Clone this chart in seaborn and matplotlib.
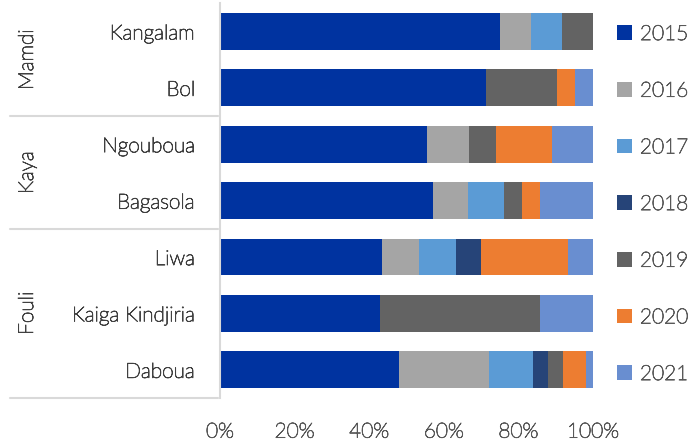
import matplotlib
matplotlib.use("Agg")
import matplotlib.pyplot as plt
import matplotlib.patheffects as pe
import seaborn as sns
import numpy as np
import pandas as pd
from matplotlib.patches import Patch
import matplotlib.transforms as mtransforms

villages = ["Kangalam", "Bol", "Ngouboua", "Bagasola", "Liwa", "Kaiga Kindjiria", "Daboua"]
groups = ["Mamdi", "Kaya", "Fouli"]
group_sizes = [2, 2, 3]
years = ["2015", "2016", "2017", "2018", "2019", "2020", "2021"]

y2015 = [75.0, 71.4, 55.6, 57.1, 43.3, 42.9, 48.0]
y2016 = [8.3, 0.0, 11.1, 9.5, 10.0, 0.0, 24.0]
y2017 = [8.3, 0.0, 0.0, 9.5, 10.0, 0.0, 12.0]
y2018 = [0.0, 0.0, 0.0, 0.0, 6.7, 0.0, 4.0]
y2019 = [8.4, 19.0, 7.4, 4.8, 0.0, 42.8, 4.0]
y2020 = [0.0, 4.8, 14.8, 4.8, 23.3, 0.0, 6.0]
y2021 = [0.0, 4.8, 11.1, 14.3, 6.7, 14.3, 2.0]

colors = ["#0033A0", "#A5A5A5", "#5B9BD5", "#264478", "#636363", "#ED7D31", "#698ED0"]

series = [y2015, y2016, y2017, y2018, y2019, y2020, y2021]

sns.set_theme(style="white")
plt.rcParams["font.family"] = ["Lato", "DejaVu Sans"]
plt.rcParams["font.weight"] = "light"

dark = "#404040"
mid = "#595959"

def thicken(t, c):
    t.set_color(c)
    t.set_fontweight("light")
    t.set_path_effects([pe.withStroke(linewidth=0.6, foreground=c)])

fig = plt.figure(figsize=(6.9, 4.41), dpi=100)
ax = fig.add_axes([220/690, 1-398/441, (593-220)/690, (398-3.25)/441])

df = pd.DataFrame({"village": villages})
cum = np.cumsum(np.array(series), axis=0)
for i in range(len(years) - 1, -1, -1):
    df["val"] = cum[i]
    sns.barplot(data=df, x="val", y="village", order=villages, color=colors[i],
                orient="h", width=0.655, saturation=1, linewidth=0, ax=ax)

ax.set_xlim(0, 100)
ax.set_ylim(6.5, -0.5)
ax.set_xticks([0, 20, 40, 60, 80, 100])
ax.set_xticklabels([f"{v}%" for v in [0, 20, 40, 60, 80, 100]])
ax.set_xlabel("")
ax.set_ylabel("")
ax.tick_params(axis="x", length=0, pad=17, labelsize=15)
ax.tick_params(axis="y", length=0, pad=18, labelsize=15)
for lab in ax.get_xticklabels():
    thicken(lab, mid)
for lab in ax.get_yticklabels():
    thicken(lab, dark)
for s in ["top", "right", "bottom"]:
    ax.spines[s].set_visible(False)
ax.spines["left"].set_color("#D9D9D9")
ax.spines["left"].set_linewidth(1.5)

# group separators and labels
trans = mtransforms.blended_transform_factory(fig.transFigure, ax.transData)
x0 = 10/690
x1 = 218/690
start = 0
for g, n in zip(groups, group_sizes):
    end = start + n
    ax.plot([x0, x1], [end - 0.5, end - 0.5], transform=trans, color="#D9D9D9",
            lw=1.5, clip_on=False)
    t = ax.text(27/690, (start + end - 1) / 2, g, transform=trans, rotation=90,
                ha="center", va="center", fontsize=15)
    thicken(t, dark)
    start = end

handles = [Patch(facecolor=c, edgecolor="none", label=y) for c, y in zip(colors, years)]
leg = fig.legend(handles=handles, loc="center left", bbox_to_anchor=(617/690, 1-204/441),
                 frameon=False, handlelength=0.7, handleheight=0.7,
                 handletextpad=0.4, labelspacing=1.76,
                 borderaxespad=0, borderpad=0, prop={"size": 15, "weight": "light"})
for t in leg.get_texts():
    thicken(t, mid)

fig.savefig("out.png", dpi=100)
